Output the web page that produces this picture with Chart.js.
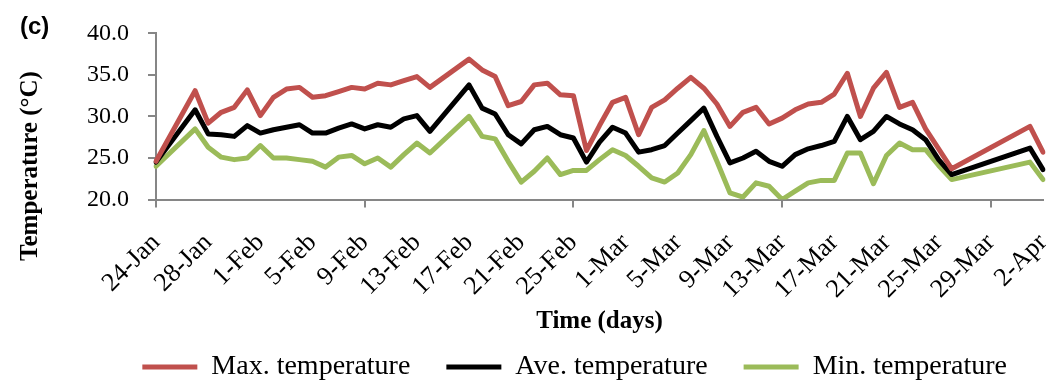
<!DOCTYPE html>
<html>
<head>
<meta charset="utf-8">
<script src="https://cdn.jsdelivr.net/npm/chart.js@4.4.1/dist/chart.umd.min.js"></script>
<style>
  html, body { margin: 0; padding: 0; background: #fff; }
  #wrap { width: 1052px; height: 382px; }
</style>
</head>
<body>
<div id="wrap"><canvas id="chartTemp"></canvas></div>
<script>
// daily records, 24-Jan to 2-Apr (null = no reading that day)
const days = [
    "24-Jan", "25-Jan", "26-Jan", "27-Jan", "28-Jan", "29-Jan", "30-Jan", "31-Jan",
    "1-Feb", "2-Feb", "3-Feb", "4-Feb", "5-Feb", "6-Feb", "7-Feb", "8-Feb", "9-Feb", "10-Feb",
    "11-Feb", "12-Feb", "13-Feb", "14-Feb", "15-Feb", "16-Feb", "17-Feb", "18-Feb", "19-Feb",
    "20-Feb", "21-Feb", "22-Feb", "23-Feb", "24-Feb", "25-Feb", "26-Feb", "27-Feb", "28-Feb",
    "1-Mar", "2-Mar", "3-Mar", "4-Mar", "5-Mar", "6-Mar", "7-Mar", "8-Mar", "9-Mar", "10-Mar",
    "11-Mar", "12-Mar", "13-Mar", "14-Mar", "15-Mar", "16-Mar", "17-Mar", "18-Mar", "19-Mar",
    "20-Mar", "21-Mar", "22-Mar", "23-Mar", "24-Mar", "25-Mar", "26-Mar", "27-Mar", "28-Mar",
    "29-Mar", "30-Mar", "31-Mar", "1-Apr", "2-Apr"
];

const tMax = [
    24.6, null, null, 33.1, 29.2, 30.5, 31.1, 33.2, 30.1, 32.3, 33.3, 33.5, 32.3, 32.5,
    33.0, 33.5, 33.3, 34.0, 33.8, 34.3, 34.8, 33.5, null, null, 36.9, 35.6, 34.8, 31.3,
    31.8, 33.8, 34.0, 32.6, 32.5, 25.9, 28.9, 31.7, 32.3, 27.8, 31.1, 32.0, 33.4, 34.7,
    33.4, 31.5, 28.8, 30.5, 31.1, 29.1, 29.8, 30.8, 31.5, 31.7, 32.7, 35.2, 30.0, 33.4,
    35.3, 31.1, 31.7, 28.5, 26.1, 23.7, null, null, null, null, null, 28.8, 25.7
];

const tAve = [
    24.5, null, null, 30.8, 27.9, 27.8, 27.6, 28.9, 28.0, 28.4, 28.7, 29.0, 28.0, 28.0,
    28.6, 29.1, 28.5, 29.0, 28.7, 29.7, 30.1, 28.2, null, null, 33.8, 31.0, 30.3, 27.8,
    26.7, 28.4, 28.8, 27.8, 27.4, 24.5, 26.9, 28.7, 28.0, 25.7, 26.0, 26.5, 28.0, 29.5,
    31.0, 27.6, 24.4, 25.0, 25.8, 24.6, 24.0, 25.4, 26.1, 26.5, 27.0, 30.0, 27.2, 28.2,
    30.0, 29.1, 28.4, 27.2, 24.8, 23.0, null, null, null, null, null, 26.2, 23.6
];

const tMin = [
    24.0, null, null, 28.5, 26.3, 25.1, 24.8, 25.0, 26.5, 25.0, 25.0, 24.8, 24.6, 23.9,
    25.1, 25.3, 24.3, 25.0, 23.9, 25.4, 26.8, 25.6, null, null, 30.0, 27.6, 27.3, 24.6,
    22.1, 23.4, 25.0, 23.0, 23.5, 23.5, 24.8, 26.0, 25.3, 24.0, 22.6, 22.1, 23.2, 25.4,
    28.3, 24.6, 20.8, 20.3, 22.0, 21.6, 20.0, 21.0, 22.0, 22.3, 22.3, 25.6, 25.6, 21.9,
    25.3, 26.8, 26.0, 26.0, 24.1, 22.4, null, null, null, null, null, 24.5, 22.4
];

const seriesNames = ["Max. temperature", "Ave. temperature", "Min. temperature"];
const seriesColors = ["#C0504D", "#000000", "#9BBB59"];

const yTitle = "Temperature (°C)";
const xTitle = "Time (days)";
const panelTag = "(c)";

const SERIF = "'Liberation Serif', 'Times New Roman', serif";
const AXIS_GREY = "#868686";

Chart.defaults.color = "#000";
Chart.defaults.font.family = SERIF;

// extra labels outside the plot: panel tag and the vertical axis title
const sideText = {
    id: "sideText",
    afterDraw(chart) {
        const ctx = chart.ctx;
        ctx.save();
        ctx.fillStyle = "#000";
        ctx.font = "bold 24px 'Liberation Sans', Arial, sans-serif";
        ctx.textAlign = "left";
        ctx.textBaseline = "middle";
        ctx.fillText(panelTag, 20, 27);

        ctx.font = "bold 25px " + SERIF;
        ctx.textAlign = "center";
        ctx.translate(31, 166);
        ctx.rotate(-Math.PI / 2);
        ctx.fillText(yTitle, 0, 0);
        ctx.restore();
    }
};

const makeSet = (label, data, color) => ({
    label: label,
    data: data,
    borderColor: color,
    backgroundColor: color,
    borderWidth: 5,
    borderCapStyle: "round",
    borderJoinStyle: "round",
    pointRadius: 0,
    pointHoverRadius: 0,
    pointStyle: "line",
    tension: 0,
    spanGaps: true,
    fill: false
});

new Chart(document.getElementById("chartTemp"), {
    type: "line",
    data: {
        labels: days,
        datasets: [
            makeSet(seriesNames[0], tMax, seriesColors[0]),
            makeSet(seriesNames[1], tAve, seriesColors[1]),
            makeSet(seriesNames[2], tMin, seriesColors[2])
        ]
    },
    options: {
        responsive: true,
        maintainAspectRatio: false,
        animation: false,
        layout: {
            padding: { top: 21, left: 0, right: 9, bottom: 0 }
        },
        plugins: {
            tooltip: { enabled: false },
            legend: {
                position: "bottom",
                align: "end",
                maxHeight: 65,
                labels: {
                    usePointStyle: true,
                    pointStyleWidth: 55,
                    padding: 36,
                    color: "#000",
                    font: { family: SERIF, size: 28 }
                }
            }
        },
        scales: {
            x: {
                type: "category",
                offset: false,
                afterFit: (scale) => {
                    scale.height = 117.5;
                    scale.paddingRight = 0;
                },
                border: { display: true, color: AXIS_GREY, width: 2 },
                grid: {
                    display: true,
                    drawOnChartArea: false,
                    drawTicks: true,
                    tickLength: 8,
                    lineWidth: 2,
                    color: (ctx) => (ctx.index % 4 === 0 ? AXIS_GREY : "rgba(0,0,0,0)")
                },
                ticks: {
                    autoSkip: false,
                    minRotation: 45,
                    maxRotation: 45,
                    padding: 20,
                    color: "#000",
                    font: { family: SERIF, size: 26 },
                    callback: function (val, i) {
                        return i % 4 === 0 ? this.getLabelForValue(val) : null;
                    }
                },
                title: {
                    display: true,
                    text: xTitle,
                    color: "#000",
                    font: { family: SERIF, size: 25, weight: "bold" },
                    padding: { top: 0, bottom: -20 }
                }
            },
            y: {
                min: 20,
                max: 40,
                afterFit: (scale) => {
                    scale.width = 156;
                },
                border: { display: true, color: AXIS_GREY, width: 2 },
                grid: {
                    display: true,
                    drawOnChartArea: false,
                    drawTicks: true,
                    tickLength: 8,
                    lineWidth: 2,
                    color: AXIS_GREY
                },
                ticks: {
                    stepSize: 5,
                    padding: 19,
                    color: "#000",
                    font: { family: SERIF, size: 24 },
                    callback: (v) => v.toFixed(1)
                }
            }
        }
    },
    plugins: [sideText]
});
</script>
</body>
</html>
